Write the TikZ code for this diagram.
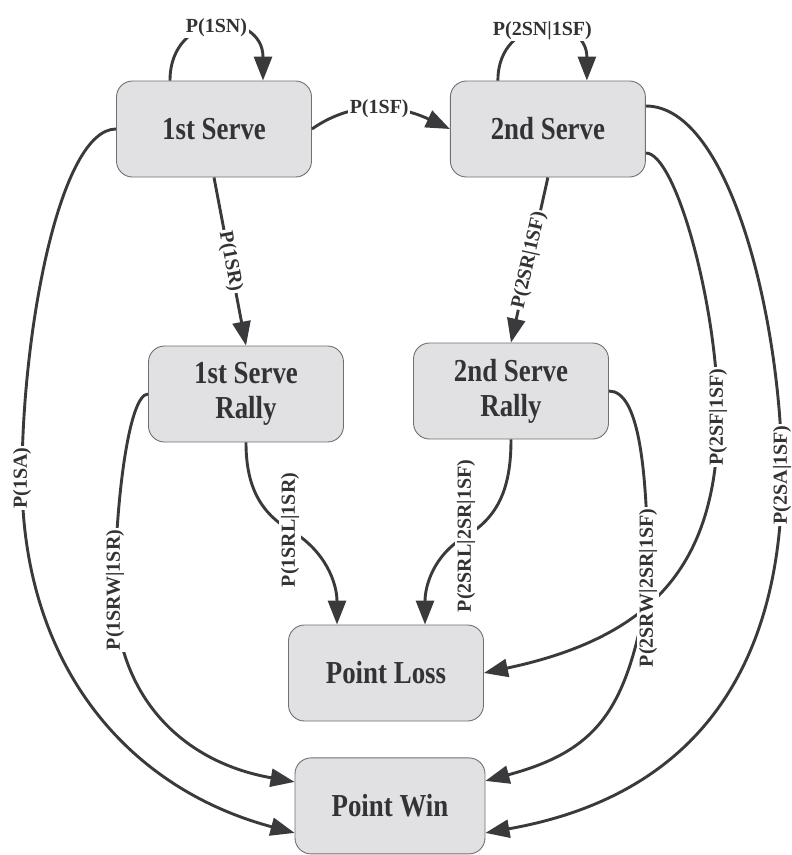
\documentclass[tikz,border=0pt]{standalone}
\usepackage{fontspec}
\setmainfont{Liberation Serif}
\newfontfamily\boxfont[FakeStretch=0.84]{Liberation Serif}
\usetikzlibrary{arrows.meta, positioning}

\definecolor{edge}{HTML}{3A3A3C}
\definecolor{boxfill}{HTML}{E1E1E3}
\definecolor{boxline}{HTML}{707072}
\definecolor{ink}{HTML}{333335}

\begin{document}
\begin{tikzpicture}[
    x=1pt, y=1pt,
    state/.style = {rounded corners=16pt, draw=boxline, line width=0.9pt, fill=boxfill,
                    align=center, minimum width=195pt, minimum height=96pt, inner sep=0pt,
                    text=ink, font=\boxfont\bfseries\fontsize{32}{35}\selectfont},
    arrow/.style = {-{Triangle[length=24pt, width=18pt]}, draw=edge, line width=2.9pt},
    lbl/.style   = {fill=white, inner sep=1.5pt, text=ink,
                    font=\bfseries\fontsize{20}{22}\selectfont}
]
\path[use as bounding box, fill=white] (0,0) rectangle (792,-855);

%% ── Estados ─────────────────────────────────────────────────────────────────
\node[state] (s1) at (214,-129) {1st Serve};
\node[state, right=138pt of s1] (s2) {2nd Serve};
\node[state] (r1) at (246,-394) {1st Serve\\Rally};
\node[state] (r2) at (511,-391) {2nd Serve\\Rally};
\node[state] (loss) at (386,-673) {Point Loss};
\node[state, minimum width=190pt, below=36pt of loss, xshift=4pt] (win) {Point Win};

%% ── Puntos de paso de las etiquetas ────────────────────────────────────────
\coordinate (c1sa)  at (22,-478);
\coordinate (c1srw) at (115,-590);
\coordinate (c1srl) at (290,-530);
\coordinate (c2srl) at (466,-536);
\coordinate (c2srw) at (648,-588);
\coordinate (c2sf)  at (718,-417);
\coordinate (c2sa)  at (782,-475);

%% ── Saques repetidos (lazos) ────────────────────────────────────────────────
\draw[arrow] ([xshift=-44pt]s1.north) to[out=90, in=90, distance=71pt]
    node[lbl] (l1sn) {P(1SN)} ([xshift=49pt]s1.north);
\draw[arrow] ([xshift=-50pt]s2.north) to[out=90, in=90, distance=67pt]
    node[lbl] (l2sn) {P(2SN|1SF)} ([xshift=39pt]s2.north);

%% ── Primer saque fallado ────────────────────────────────────────────────────
\draw[arrow] (s1.east) to[out=35, in=155] node[lbl] (l1sf) {P(1SF)} (s2.west);

%% ── Saque en juego → peloteo ────────────────────────────────────────────────
\draw[arrow] (s1.south) -- node[lbl, sloped] (l1sr) {P(1SR)} (r1.north);
\draw[arrow] (s2.south) -- node[lbl, sloped] (l2sr) {P(2SR|1SF)} (r2.north);

%% ── Transiciones a punto perdido / ganado ──────────────────────────────────
\draw[arrow] (s1.west) to[out=180, in=90, out distance=56pt, in distance=148pt] (c1sa)
    to[out=-90, in=165, out distance=180pt, in distance=180pt] ([yshift=-27pt]win.west);
\draw[arrow] (r1.west) to[out=180, in=90, out distance=20pt, in distance=80pt] (c1srw)
    to[out=-90, in=170, out distance=100pt, in distance=120pt] ([yshift=24pt]win.west);
\draw[arrow] (r1.south) to[out=-90, in=150] (c1srl)
    to[out=-30, in=90] ([xshift=-49pt]loss.north);
\draw[arrow] (r2.south) to[out=-90, in=30] (c2srl)
    to[out=-150, in=90] ([xshift=39pt]loss.north);
\draw[arrow] ([yshift=-24pt]s2.east) to[out=0, in=90, out distance=30pt, in distance=110pt] (c2sf)
    to[out=-90, in=12, out distance=150pt, in distance=170pt] (loss.east);
\draw[arrow] (r2.east) to[out=0, in=90, out distance=30pt, in distance=120pt] (c2srw)
    to[out=-100, in=15, out distance=120pt, in distance=120pt] ([yshift=25pt]win.east);
\draw[arrow] ([yshift=23pt]s2.east) to[out=0, in=90, out distance=85pt, in distance=150pt] (c2sa)
    to[out=-90, in=10, out distance=160pt, in distance=240pt] ([yshift=-27pt]win.east);

%% ── Etiquetas verticales ────────────────────────────────────────────────────
\node[lbl, rotate=90] (l1sa)  at (c1sa)  {P(1SA)};
\node[lbl, rotate=90] (l1srw) at (c1srw) {P(1SRW|1SR)};
\node[lbl, rotate=90] (l1srl) at (c1srl) {P(1SRL|1SR)};
\node[lbl, rotate=90] (l2srl) at (c2srl) {P(2SRL|2SR|1SF)};
\node[lbl, rotate=90] (l2sf)  at (c2sf)  {P(2SF|1SF)};
\node[lbl, rotate=90] (l2srw) at (c2srw) {P(2SRW|2SR|1SF)};
\node[lbl, rotate=90] (l2sa)  at (c2sa)  {P(2SA|1SF)};

\end{tikzpicture}
\end{document}
